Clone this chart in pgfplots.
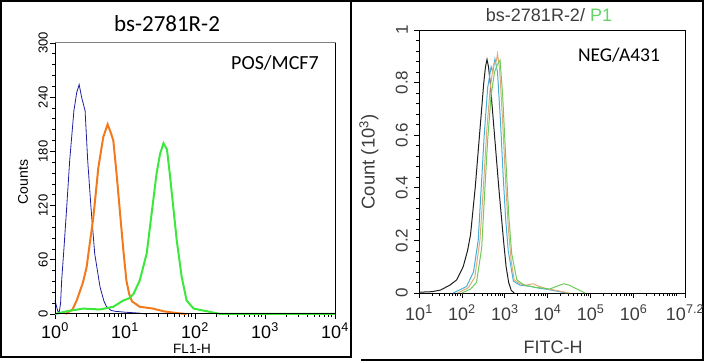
\documentclass[border=0pt]{standalone}
\usepackage{fontspec}
\setmainfont{Liberation Sans}
\newfontfamily\calfont{Carlito}
\usepackage{pgfplots}
\pgfplotsset{compat=1.18}
\definecolor{cblue}{RGB}{30,30,160}
\definecolor{corange}{RGB}{242,122,30}
\definecolor{cgreen}{RGB}{60,232,60}
\definecolor{rblack}{RGB}{30,30,30}
\definecolor{rcyan}{RGB}{70,175,215}
\definecolor{rorange}{RGB}{225,170,120}
\definecolor{rgreen}{RGB}{110,205,90}
\definecolor{tgray}{RGB}{60,60,60}
\definecolor{tgreen}{RGB}{100,210,100}
\begin{document}
\begin{tikzpicture}
\useasboundingbox (0pt,0pt) rectangle (704pt,363pt);
% frames
\draw[line width=2.4pt] (1.2pt,361.8pt) rectangle (351pt,6pt);
\draw[line width=2.4pt] (351pt,361.8pt) -- (702.8pt,361.8pt) -- (702.8pt,3.2pt) -- (361pt,3.2pt);
% ---------- left panel ----------
\begin{axis}[at={(55pt,49pt)}, anchor=south west, width=280pt, height=271pt, scale only axis,
  xmin=0, xmax=4, ymin=0, ymax=300, clip=false,
  xtick={0,1,2,3,4},
  xticklabels={10\textsuperscript{0},10\textsuperscript{1},10\textsuperscript{2},10\textsuperscript{3},10\textsuperscript{4}},
  minor xtick={0.301,0.477,0.602,0.699,0.778,0.845,0.903,0.954,
               1.301,1.477,1.602,1.699,1.778,1.845,1.903,1.954,
               2.301,2.477,2.602,2.699,2.778,2.845,2.903,2.954,
               3.301,3.477,3.602,3.699,3.778,3.845,3.903,3.954},
  ytick={0,60,120,180,240,300},
  yticklabels={0,60,120,180,240,300},
  minor ytick={12,24,36,48,72,84,96,108,132,144,156,168,192,204,216,228,252,264,276,288},
  tick align=outside, xtick pos=bottom, ytick pos=left,
  major tick length=5pt, minor tick length=3pt,
  tick style={black, line width=0.8pt},
  axis line style={draw=gray, line width=1pt},
  yticklabel style={rotate=90, anchor=south, font=\fontsize{13}{13}\selectfont, inner sep=2pt},
  xticklabel style={font=\fontsize{18}{18}\selectfont, inner sep=1pt, yshift=-3pt},
]
\addplot[cblue, line width=0.8pt] table {
0.00 15
0.02 9
0.04 3
0.06 2
0.08 12
0.095 37
0.13 75
0.167 118
0.21 170
0.27 225
0.31 245
0.345 254
0.38 240
0.43 225
0.467 170
0.514 118
0.567 67
0.643 30
0.70 14
0.738 8
0.80 4
0.857 3
1.0 2
1.2 1
1.3 0
};
\addplot[corange, line width=2pt] table {
0.15 0
0.25 5
0.31 15
0.40 35
0.452 52
0.50 80
0.548 107
0.619 162
0.69 196
0.752 210
0.80 200
0.833 192
0.88 155
0.93 111
0.976 71
1.02 37
1.06 22
1.10 14
1.21 8
1.40 6
1.55 3
1.74 1
1.88 0
};
\addplot[cgreen, line width=2pt] table {
0 0
0.167 3
0.405 6
0.643 5
0.833 8
0.976 15
1.05 17
1.12 22
1.21 37
1.31 67
1.38 111
1.45 155
1.50 177
1.55 189
1.60 182
1.64 155
1.69 118
1.74 81
1.81 41
1.88 15
1.98 6
2.17 3
2.36 0
4.0 0
};
\draw[black, line width=1pt] (rel axis cs:0,1) -- (rel axis cs:0,0) -- (rel axis cs:1,0) -- (rel axis cs:1,1);
\end{axis}
\node[font=\calfont\fontsize{23}{23}\selectfont] at (167pt,339pt) {bs-2781R-2};
\node[font=\calfont\fontsize{20}{20}\selectfont] at (275pt,300pt) {POS/MCF7};
\node[rotate=90, font=\fontsize{14}{14}\selectfont] at (23pt,181pt) {Counts};
\node[font=\fontsize{13.5}{13.5}\selectfont, inner sep=1pt] at (192pt,14pt) {FL1-H};
% ---------- right panel ----------
\begin{axis}[at={(419pt,70pt)}, anchor=south west, width=266pt, height=263pt, scale only axis,
  xmin=1, xmax=7.2, ymin=0, ymax=1, clip=false,
  xtick={1,2,3,4,5,6,7.2},
  xticklabels={10\textsuperscript{1},10\textsuperscript{2},10\textsuperscript{3},10\textsuperscript{4},10\textsuperscript{5},10\textsuperscript{6},10\textsuperscript{7.2}},
  minor xtick={1.301,1.477,1.602,1.699,1.778,1.845,1.903,1.954,
               2.301,2.477,2.602,2.699,2.778,2.845,2.903,2.954,
               3.301,3.477,3.602,3.699,3.778,3.845,3.903,3.954,
               4.301,4.477,4.602,4.699,4.778,4.845,4.903,4.954,
               5.301,5.477,5.602,5.699,5.778,5.845,5.903,5.954,
               6.301,6.477,6.602,6.699,6.778,6.845,6.903,6.954,7},
  ytick={0,0.2,0.4,0.6,0.8,1},
  yticklabels={0,0.2,0.4,0.6,0.8,1},
  minor ytick={0.04,0.08,0.12,0.16,0.24,0.28,0.32,0.36,0.44,0.48,0.52,0.56,0.64,0.68,0.72,0.76,0.84,0.88,0.92,0.96},
  tick align=outside, xtick pos=bottom, ytick pos=left,
  major tick length=5pt, minor tick length=3pt,
  tick style={black, line width=0.8pt},
  axis line style={draw=black, line width=0.9pt},
  yticklabel style={rotate=90, anchor=south, font=\fontsize{17}{17}\selectfont, text=tgray, inner xsep=3pt, inner ysep=6pt},
  xticklabel style={font=\fontsize{18}{18}\selectfont, text=tgray, inner sep=2pt, yshift=-5pt},
]
\addplot[rblack, line width=1pt] table {
1.0 0.003
1.3 0.005
1.5 0.011
1.72 0.03
1.88 0.05
2.03 0.10
2.13 0.16
2.20 0.22
2.31 0.40
2.41 0.60
2.51 0.80
2.55 0.86
2.585 0.888
2.62 0.86
2.66 0.80
2.76 0.60
2.86 0.40
2.97 0.20
3.03 0.10
3.09 0.04
3.15 0.01
3.22 0.0
};
\addplot[rcyan, line width=1pt] table {
1.8 0.0
2.11 0.025
2.27 0.08
2.38 0.2
2.45 0.40
2.52 0.60
2.60 0.78
2.68 0.86
2.72 0.84
2.77 0.89
2.83 0.84
2.90 0.65
2.96 0.45
3.02 0.28
3.08 0.16
3.20 0.045
3.35 0.03
3.60 0.025
3.74 0.02
4.05 0.012
4.44 0.0
};
\addplot[rorange, line width=1pt] table {
1.9 0.0
2.15 0.02
2.30 0.06
2.42 0.2
2.50 0.4
2.58 0.62
2.66 0.78
2.74 0.87
2.80 0.88
2.83 0.91
2.88 0.85
2.95 0.65
3.02 0.42
3.08 0.25
3.15 0.12
3.22 0.05
3.35 0.035
3.50 0.03
3.66 0.035
3.80 0.025
4.00 0.015
4.20 0.01
4.50 0.0
};
\addplot[rgreen, line width=1pt] table {
2.0 0.0
2.2 0.015
2.34 0.04
2.46 0.17
2.53 0.38
2.60 0.58
2.68 0.75
2.76 0.84
2.83 0.87
2.89 0.885
2.95 0.75
3.02 0.52
3.09 0.30
3.16 0.15
3.28 0.05
3.45 0.03
3.70 0.022
4.05 0.015
4.20 0.025
4.37 0.035
4.50 0.03
4.68 0.015
4.87 0.0
};
\end{axis}
\node[font=\fontsize{18}{18}\selectfont, text=tgray] at (549pt,348pt) {bs-2781R-2/ \textcolor{tgreen}{P1}};
\node[font=\calfont\fontsize{19.5}{19.5}\selectfont] at (619pt,308pt) {NEG/A431};
\node[rotate=90, font=\fontsize{18.5}{18.5}\selectfont, text=tgray] at (369pt,201pt) {Count (10\textsuperscript{3})};
\node[font=\fontsize{18}{18}\selectfont, text=tgray] at (553pt,16pt) {FITC-H};
\end{tikzpicture}
\end{document}
